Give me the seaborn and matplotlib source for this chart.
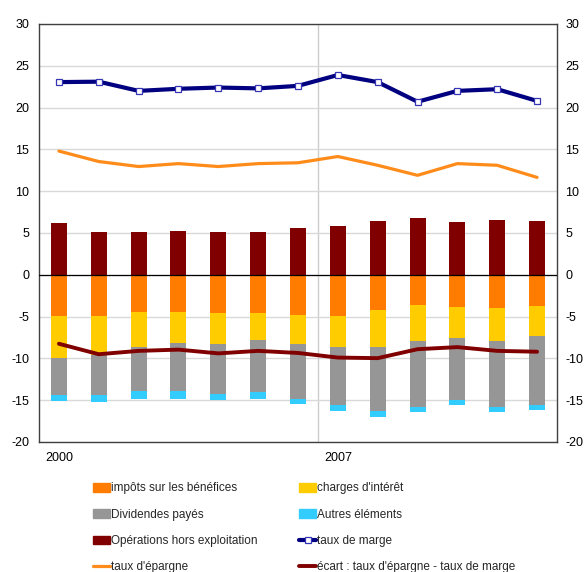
import numpy as np
import matplotlib
matplotlib.use("Agg")
import matplotlib.pyplot as plt
import seaborn as sns
from matplotlib.patches import Patch
from matplotlib.lines import Line2D

# ---------------- data ----------------
years = [str(y) for y in range(2000, 2013)]
xtick_years = ["2000", "2007"]
impots = [-4.98, -4.90, -4.50, -4.50, -4.60, -4.60, -4.75, -4.90, -4.27, -3.63, -3.87, -3.95, -3.71]
charges = [-5.00, -4.70, -4.10, -3.65, -3.65, -3.20, -3.50, -3.75, -4.38, -4.30, -3.71, -3.98, -3.67]
dividendes = [-4.43, -4.80, -5.35, -5.80, -5.95, -6.20, -6.60, -6.90, -7.62, -7.87, -7.37, -7.87, -8.17]
autres = [-0.67, -0.80, -0.85, -0.85, -0.75, -0.80, -0.65, -0.72, -0.73, -0.60, -0.65, -0.60, -0.65]
operations = [6.25, 5.06, 5.06, 5.18, 5.06, 5.06, 5.60, 5.86, 6.38, 6.78, 6.30, 6.58, 6.38]
taux_marge = [23.05, 23.10, 22.00, 22.25, 22.40, 22.30, 22.60, 23.90, 23.05, 20.70, 22.00, 22.20, 20.80]
taux_epargne = [14.80, 13.55, 12.95, 13.30, 12.95, 13.30, 13.40, 14.15, 13.10, 11.90, 13.30, 13.10, 11.65]
ecart = [-8.25, -9.50, -9.10, -8.95, -9.40, -9.10, -9.35, -9.90, -9.97, -8.90, -8.65, -9.10, -9.20]

labels = {
    "impots": "impôts sur les bénéfices",
    "charges": "charges d'intérêt",
    "dividendes": "Dividendes payés",
    "autres": "Autres éléments",
    "operations": "Opérations hors exploitation",
    "marge": "taux de marge",
    "epargne": "taux d'épargne",
    "ecart": "écart : taux d'épargne - taux de marge",
}

# ---------------- style ----------------
C_IMP = "#FF7C00"
C_CHG = "#FFCC00"
C_DIV = "#969696"
C_AUT = "#33CCFF"
C_OPE = "#800000"
C_MAR = "#000080"
C_EPA = "#FF8C1A"
C_ECA = "#800000"

sns.set_style("white")
plt.rcParams["font.family"] = ["Liberation Sans", "DejaVu Sans"]
plt.rcParams["axes.unicode_minus"] = False

fig = plt.figure(figsize=(5.84, 5.72), dpi=100)
ax = fig.add_axes([39 / 584, 1 - 442 / 572, 518 / 584, 418 / 572])

x = np.arange(len(years))
c1 = np.array(impots)
c2 = c1 + np.array(charges)
c3 = c2 + np.array(dividendes)
c4 = c3 + np.array(autres)

bw = 0.4
for vals, col in [(c4, C_AUT), (c3, C_DIV), (c2, C_CHG), (c1, C_IMP), (operations, C_OPE)]:
    sns.barplot(x=years, y=vals, color=col, saturation=1, width=bw,
                errorbar=None, linewidth=0, ax=ax, zorder=2)

sns.lineplot(x=x, y=taux_marge, color=C_MAR, linewidth=3.0, marker="s",
             markersize=4.5, markerfacecolor="white", markeredgecolor="#3535B5",
             markeredgewidth=0.9, legend=False, ax=ax, zorder=4)
sns.lineplot(x=x, y=taux_epargne, color=C_EPA, linewidth=2.3, legend=False, ax=ax, zorder=4)
sns.lineplot(x=x, y=ecart, color=C_ECA, linewidth=2.8, legend=False, ax=ax, zorder=4)

ax.set_xlim(-0.5, len(years) - 0.5)
ax.set_ylim(-20, 30)
ax.set_yticks(range(-20, 31, 5))
ax.yaxis.grid(True, color="#D9D9D9", linewidth=1.0)
ax.xaxis.grid(False)
ax.set_axisbelow(True)
ax.axvline(6.5, color="#CCCCCC", linewidth=1.0, zorder=0)
ax.axhline(0, color="black", linewidth=0.9, zorder=3)

ax.set_xticks([years.index(y) for y in xtick_years])
ax.set_xticklabels(xtick_years)
ax.set_xlabel("")
ax.set_ylabel("")
ax.tick_params(axis="both", length=0, labelsize=9, colors="black")
ax.tick_params(axis="y", pad=7)
ax.tick_params(axis="x", pad=7)
for s in ax.spines.values():
    s.set_color("#404040")
    s.set_linewidth(1.0)
    s.set_visible(True)

ax2 = ax.twinx()
ax2.set_ylim(-20, 30)
ax2.set_yticks(range(-20, 31, 5))
ax2.tick_params(axis="y", length=0, labelsize=9, pad=6, colors="black")
for s in ax2.spines.values():
    s.set_visible(False)

# ---------------- legend ----------------
h1 = [Patch(color=C_IMP), Patch(color=C_DIV), Patch(color=C_OPE),
      Line2D([], [], color=C_EPA, linewidth=2.3)]
l1 = [labels["impots"], labels["dividendes"], labels["operations"], labels["epargne"]]
h2 = [Patch(color=C_CHG), Patch(color=C_AUT),
      Line2D([], [], color=C_MAR, linewidth=3.0, marker="s", markersize=4,
             markerfacecolor="white", markeredgecolor="#3535B5", markeredgewidth=0.9),
      Line2D([], [], color=C_ECA, linewidth=2.8)]
l2 = [labels["charges"], labels["autres"], labels["marge"], labels["ecart"]]

common = dict(loc="upper left", frameon=False, fontsize=8.5, handlelength=1.45,
              handletextpad=0.1, labelspacing=1.2, borderpad=0, borderaxespad=0)
fig.legend(h1, l1, bbox_to_anchor=(93 / 584, 1 - 482.5 / 572), **common)
fig.legend(h2, l2, bbox_to_anchor=(299 / 584, 1 - 482.5 / 572), **common)

fig.savefig("out.png", dpi=100)
